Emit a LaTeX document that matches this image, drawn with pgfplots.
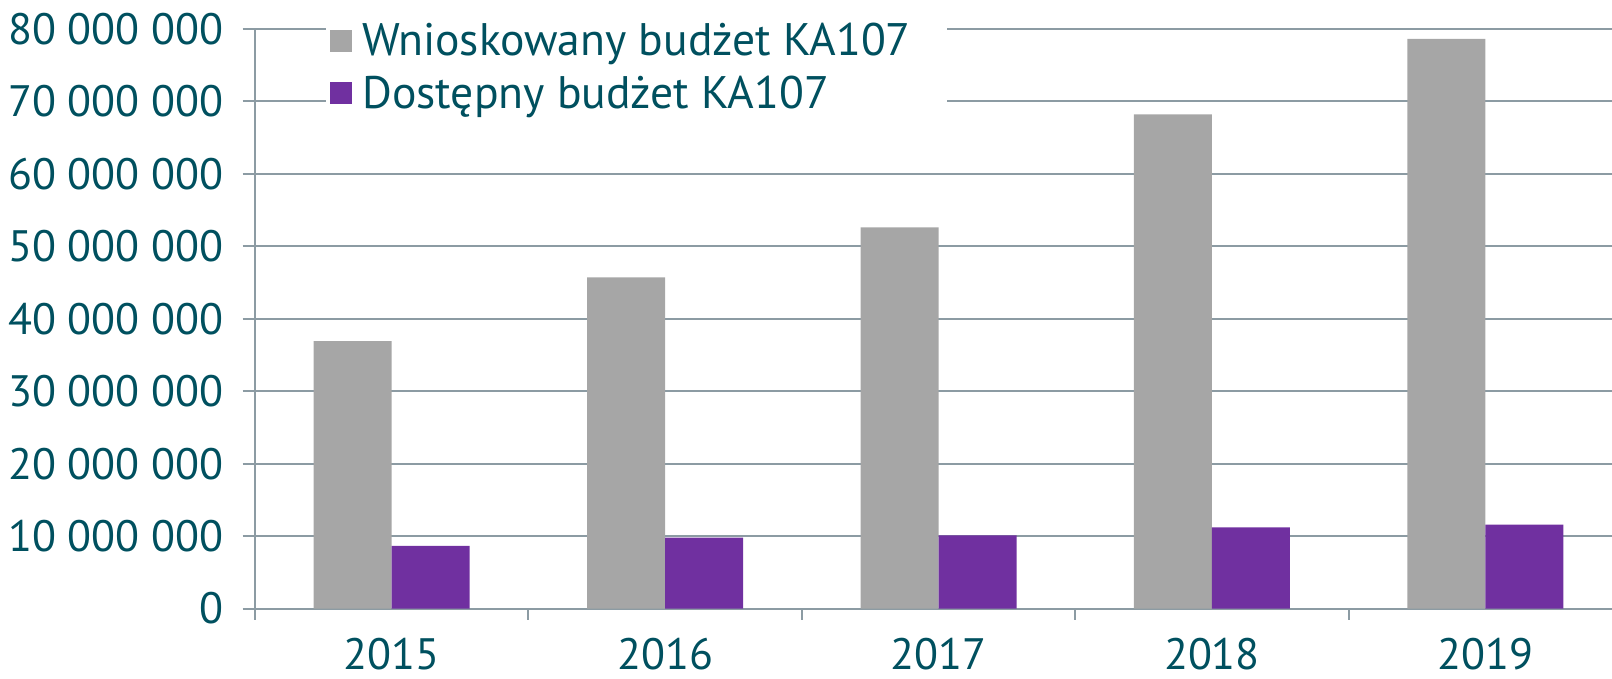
\documentclass[border=0pt]{standalone}
\usepackage{fontspec}
\setmainfont{PT Sans}
\usepackage{pgfplots}
\pgfplotsset{compat=1.18}
\definecolor{txt}{HTML}{00505F}
\definecolor{gridc}{HTML}{8C9BA3}
\definecolor{bgray}{HTML}{A6A6A6}
\definecolor{bpurp}{HTML}{7030A0}
\begin{document}
\begin{tikzpicture}
\begin{axis}[
  at={(0,0)}, anchor=south west,
  scale only axis, width=678.5pt, height=289.9pt,
  ybar=0pt, bar width=39pt,
  xmin=-0.5, xmax=4.463,
  ymin=0, ymax=80000000,
  scaled y ticks=false,
  ytick={0,10000000,20000000,30000000,40000000,50000000,60000000,70000000,80000000},
  yticklabels={0,10 000 000,20 000 000,30 000 000,40 000 000,50 000 000,60 000 000,70 000 000,80 000 000},
  xtick={0,1,2,3,4},
  xticklabels={2015,2016,2017,2018,2019},
  minor xtick={-0.5,0.5,1.5,2.5,3.5},
  major x tick style={draw=none},
  minor x tick style={draw=gridc, line width=1pt},
  major y tick style={draw=gridc, line width=1pt},
  tick align=outside,
  major tick length=6.2pt,
  minor tick length=5.7pt,
  ymajorgrids, grid style={draw=gridc, line width=1pt},
  axis x line*=bottom, axis y line*=left,
  axis line style={-, draw=gridc, line width=1pt},
  tick label style={font=\fontsize{22}{26}\selectfont, text=txt},
  yticklabel style={xshift=-6pt},
  xticklabel style={yshift=-5pt},
  legend style={at={(0,1)}, anchor=north west, xshift=35.5pt, yshift=7pt, draw=none, fill=white,
    font=\fontsize{22.8}{27}\selectfont, text=txt, row sep=4.5pt, inner sep=2pt},
  legend cell align=left,
  legend image code/.code={\fill[#1] (0pt,-5.5pt) rectangle (11pt,5.5pt); \path (14pt,0pt);},
]
\addplot[fill=bgray, draw=none] coordinates {(0,36900000) (1,45700000) (2,52600000) (3,68200000) (4,78600000)};
\addplot[fill=bpurp, draw=none] coordinates {(0,8650000) (1,9800000) (2,10100000) (3,11200000) (4,11600000)};
\legend{Wnioskowany budżet KA107\hspace*{14pt}, Dostępny budżet KA107}
\end{axis}
\pgfresetboundingbox
\path (-127.5pt,-35.2pt) rectangle (678.5pt,304.3pt);
\end{tikzpicture}
\end{document}
